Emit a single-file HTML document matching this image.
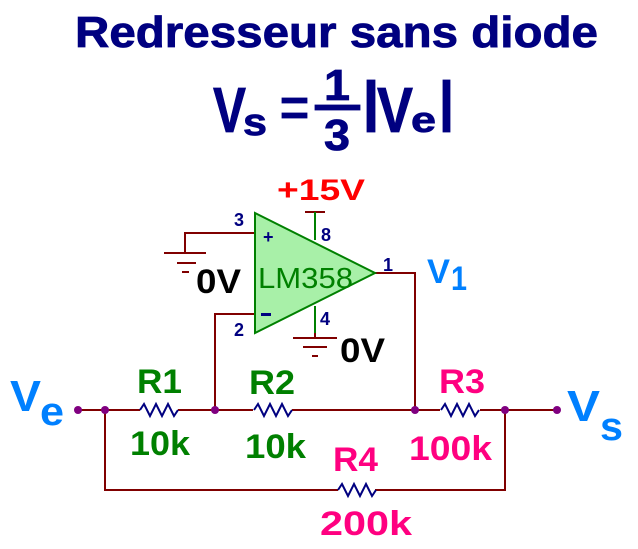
<!DOCTYPE html>
<html><head><meta charset="utf-8"><style>
html,body{margin:0;padding:0;background:#fff;}
svg{display:block;font-family:"Liberation Sans",Arial,sans-serif;font-weight:bold;}
</style></head><body>
<svg width="638" height="549" viewBox="0 0 638 549" xmlns="http://www.w3.org/2000/svg">
<text x="75" y="47" font-size="44" fill="#000080" stroke="#000080" stroke-width="0.8" textLength="523" lengthAdjust="spacingAndGlyphs">Redresseur sans diode</text>
<!-- formula -->
<g fill="#000080" stroke="#000080" stroke-width="0.8">
<text x="213" y="132" font-size="64" textLength="33" lengthAdjust="spacingAndGlyphs">V</text>
<text x="243" y="135" font-size="38" textLength="24" lengthAdjust="spacingAndGlyphs">s</text>
<rect x="282" y="98" width="25" height="5"/>
<rect x="282" y="113" width="25" height="5"/>
<rect x="315" y="105" width="45" height="5"/>
<text x="324" y="100" font-size="44" textLength="26" lengthAdjust="spacingAndGlyphs">1</text>
<text x="324" y="150" font-size="44" textLength="26" lengthAdjust="spacingAndGlyphs">3</text>
<rect x="367" y="80" width="8" height="52"/>
<text x="377" y="132" font-size="64" textLength="36" lengthAdjust="spacingAndGlyphs">V</text>
<text x="411" y="132" font-size="36" textLength="25" lengthAdjust="spacingAndGlyphs">e</text>
<rect x="443" y="80" width="7" height="52"/>
</g>
<!-- wires -->
<g stroke="#800000" stroke-width="2" fill="none">
<path d="M78 410 H140 M178 410 H253 M292 410 H440 M480 410 H557"/>
<path d="M105 410 V490 H338 M375 490 H505 V410"/>
<path d="M215 410 V314 H255"/>
<path d="M375 273 H415 V410"/>
<path d="M255 233 H185 V253"/>
<path d="M305 212 H325"/>
<path d="M164 253 H206 M177 263 H196 M182 272 H189"/>
<path d="M315 333 V338"/>
<path d="M293 338 H337 M303 347 H327 M312 356 H318"/>
</g>
<g stroke="#008000" stroke-width="2">
<path d="M315 212 V240 M315 306 V333"/>
</g>
<!-- resistors -->
<g stroke="#000080" stroke-width="2" fill="none">
<path d="M140 410 l4 -6 l6 12 l6 -12 l6 12 l6 -12 l6 12 l4 -6"/>
<path d="M254 410 l4 -6 l6 12 l6 -12 l6 12 l6 -12 l6 12 l4 -6"/>
<path d="M441 410 l4 -6 l6 12 l6 -12 l6 12 l6 -12 l6 12 l4 -6"/>
<path d="M338 490 l4 -6 l6 12 l6 -12 l6 12 l6 -12 l6 12 l4 -6"/>
</g>
<!-- opamp -->
<polygon points="255,213 375,273 255,333" fill="#a8f0a8" stroke="#008000" stroke-width="2"/>
<text x="258" y="288" font-size="29" font-weight="normal" fill="#008000" textLength="95" lengthAdjust="spacingAndGlyphs">LM358</text>
<text x="263" y="243" font-size="18" fill="#000080">+</text>
<rect x="261" y="313" width="10" height="3" fill="#000080"/>
<g font-size="18" fill="#000080">
<text x="234" y="226">3</text>
<text x="234" y="336">2</text>
<text x="321" y="241">8</text>
<text x="320" y="325">4</text>
<text x="383" y="271">1</text>
</g>
<text x="277" y="200" font-size="30" fill="#ff0000" textLength="88" lengthAdjust="spacingAndGlyphs">+15V</text>
<text x="196" y="293" font-size="34" fill="#000" textLength="45" lengthAdjust="spacingAndGlyphs">0V</text>
<text x="340" y="362" font-size="34" fill="#000" textLength="45" lengthAdjust="spacingAndGlyphs">0V</text>
<!-- dots -->
<g fill="#800080">
<circle cx="78" cy="410" r="4"/><circle cx="105" cy="410" r="4"/>
<circle cx="215" cy="410" r="4"/><circle cx="415" cy="410" r="4"/>
<circle cx="505" cy="410" r="4"/><circle cx="557" cy="410" r="4"/>
</g>
<!-- labels -->
<g fill="#0080ff">
<text x="10" y="411" font-size="44" textLength="31" lengthAdjust="spacingAndGlyphs">V</text>
<text x="40" y="425" font-size="40" textLength="24" lengthAdjust="spacingAndGlyphs">e</text>
<text x="567" y="421" font-size="44" textLength="33" lengthAdjust="spacingAndGlyphs">V</text>
<text x="600" y="440" font-size="40" textLength="23" lengthAdjust="spacingAndGlyphs">s</text>
<text x="427" y="283" font-size="34" textLength="23" lengthAdjust="spacingAndGlyphs">V</text>
<text x="451" y="290" font-size="34" textLength="16" lengthAdjust="spacingAndGlyphs">1</text>
</g>
<g fill="#008000" font-size="34">
<text x="137" y="393" textLength="45" lengthAdjust="spacingAndGlyphs">R1</text>
<text x="130" y="455" textLength="60" lengthAdjust="spacingAndGlyphs">10k</text>
<text x="249" y="394" textLength="46" lengthAdjust="spacingAndGlyphs">R2</text>
<text x="245" y="458" textLength="61" lengthAdjust="spacingAndGlyphs">10k</text>
</g>
<g fill="#ff0080" font-size="34">
<text x="439" y="393" textLength="46" lengthAdjust="spacingAndGlyphs">R3</text>
<text x="409" y="460" textLength="83" lengthAdjust="spacingAndGlyphs">100k</text>
<text x="333" y="471" textLength="45" lengthAdjust="spacingAndGlyphs">R4</text>
<text x="320" y="535" textLength="92" lengthAdjust="spacingAndGlyphs">200k</text>
</g>
</svg>
</body></html>
